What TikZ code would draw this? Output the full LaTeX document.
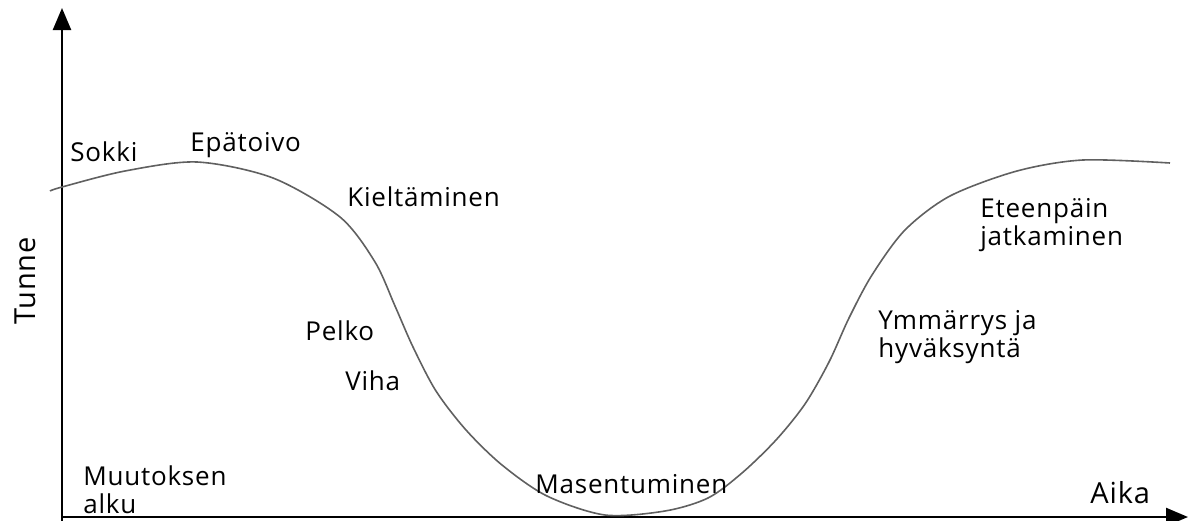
\documentclass[tikz,border=0pt]{standalone}
\usepackage{fontspec}
\setmainfont[LetterSpace=3]{Open Sans}
\usetikzlibrary{arrows.meta}
\begin{document}
\begin{tikzpicture}[x=0.5pt,y=-0.5pt,
  axis/.style={line width=1.2pt,-{Triangle[length=11pt,width=9pt]}},
  curve/.style={gray!75!black,line width=0.8pt},
  lbl/.style={anchor=west,inner sep=0pt,font=\fontsize{13}{13}\selectfont},
  lbl2/.style={anchor=west,inner sep=0pt,align=left,font=\fontsize{13}{11.5}\selectfont}]
\useasboundingbox (0,0) rectangle (1194,520);
\coordinate (O) at (62,517);
\coordinate (Ytop) at (62,8);
\coordinate (Xend) at (1188,517);
\coordinate (Ybot) at (62,524);
\draw[axis] (Ybot) -- (Ytop);
\draw[axis] (O) -- (Xend);
\draw[curve] plot[smooth,tension=0.5] coordinates {
 (50,191) (62,187) (125,171) (197,162) (273,178) (340,217) (375,262)
 (395,306) (413,347) (436,391) (466,430) (502,465) (547,496) (605,515) (665,511)
 (708,498) (742,473) (776,440) (805,404) (829,362) (849,318) (872,275)
 (905,230) (950,196) (1017,171) (1083,160) (1170,163)};
\node[lbl] (sokki) at (70,152) {Sokki};
\node[lbl] (epa) at (190,145) {Epätoivo};
\node[lbl] (kielt) at (347,197) {Kieltäminen};
\node[lbl] (pelko) at (305,331) {Pelko};
\node[lbl] (viha) at (345,381) {Viha};
\node[lbl] (mas) at (535,484) {Masentuminen};
\node[lbl2,font=\fontsize{13}{14}\selectfont] (muut) at (83,490) {Muutoksen\\alku};
\node[lbl2] (ymm) at (878,337) {Ymmärrys ja\\hyväksyntä};
\node[lbl2] (etee) at (980,225) {Eteenpäin\\jatkaminen};
\node[lbl,font=\fontsize{14.5}{14.5}\selectfont] (aika) at (1090,493) {Aika};
\node[rotate=90,inner sep=0pt,font=\fontsize{14.5}{14.5}\selectfont] (tunne) at (25,281) {Tunne};
\end{tikzpicture}
\end{document}
